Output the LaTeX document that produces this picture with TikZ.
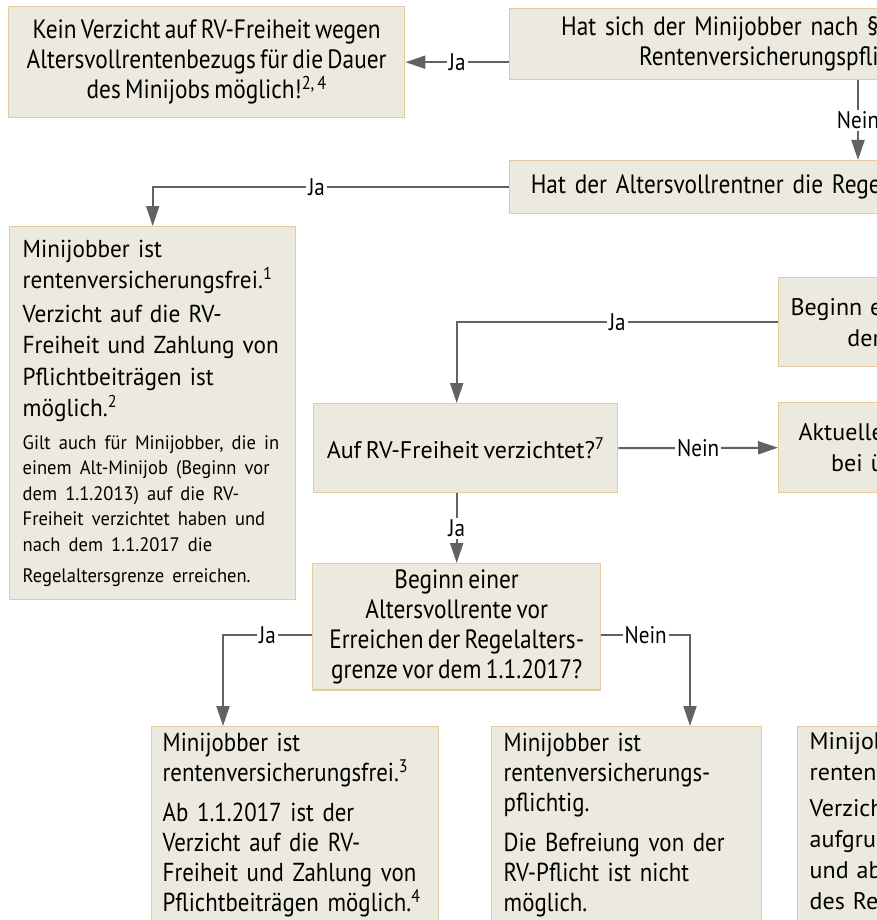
\documentclass[tikz,border=0pt]{standalone}
\usepackage{fontspec}
\setmainfont[WordSpace=0.7]{PT Sans}
\newfontfamily\condfont[FakeStretch=0.88,WordSpace=0.7]{PT Sans}
\newfontfamily\narrowfont[FakeStretch=0.95,WordSpace=0.7]{PT Sans}
\usetikzlibrary{arrows.meta,calc,positioning}
\definecolor{boxfill}{RGB}{236,234,222}
\definecolor{boxline}{RGB}{226,204,156}
\definecolor{linegray}{RGB}{98,98,98}

\begin{document}
\begin{tikzpicture}
	[
	x=1pt, y=-1pt,
  > = {Triangle[length=20pt,width=13pt]},
  box/.style = {draw=boxline, fill=boxfill, line width=1.4pt, anchor=north west, inner xsep=12pt, inner ysep=6pt},
  cbox/.style = {box, font=\condfont\fontsize{26.5}{30}\selectfont, align=center},
  rbox/.style = {box, font=\fontsize{24}{31}\selectfont, align=left},
  lowbox/.style = {box, font=\condfont\fontsize{26}{30}\selectfont, align=left, text depth=200pt},
  cut/.style = {align=right, text width=#1},
  flow/.style = {draw=linegray, line width=2pt, ->},
  tag/.style = {fill=white, inner sep=2pt, font=\condfont\fontsize{24}{26}\selectfont}
  ]
	\clip (0,0) rectangle (877,920);

	% top row
	\node[cbox, minimum width=396pt, minimum height=111pt] (kein) at (8,6)
		{Kein Verzicht auf RV-Freiheit wegen\\Altersvollrentenbezugs für die Dauer\\des Minijobs möglich!\textsuperscript{2, 4}};
	\node[cbox, cut=357pt, minimum height=71pt] (befreit) at (509,8)
		{Hat~sich~der~Minijobber~nach~§\\Rentenversicherungspfli};
	\node[cbox, cut=359pt, minimum height=53pt] (regel) at (509,160)
		{Hat~der~Altersvollrentner~die~Rege};

	% middle
	\node[rbox, font=\narrowfont\fontsize{24.5}{31.5}\selectfont, inner xsep=13pt, text width=260pt, minimum height=373pt] (frei) at (9,226)
		{Minijobber ist\\rentenversicherungsfrei.\textsuperscript{1}\par\vspace{2pt}
		Verzicht auf die RV-\\Freiheit und Zahlung von\\Pflichtbeiträgen ist\\möglich.\textsuperscript{2}\par\vspace{7pt}
		\fontsize{19.5}{25.5}\selectfont Gilt auch für Minijobber, die in\\einem Alt-Minijob (Beginn vor\\dem 1.1.2013) auf die RV-\\Freiheit verzichtet haben und\\nach dem 1.1.2017 die\\Regelaltersgrenze erreichen.};
	\node[rbox, cut=90pt, minimum height=89pt] (beginn) at (778,277)
		{Beginn~e\\der};
	\node[rbox, align=center, minimum width=304pt, minimum height=89pt] (verz) at (313,403)
		{Auf RV-Freiheit verzichtet?\textsuperscript{7}};
	\node[rbox, cut=93pt, minimum height=90pt] (aktuell) at (778,402)
		{Aktuelle\\bei~ü};
	\node[cbox, minimum width=288pt, minimum height=126pt] (vor) at (312,563)
		{Beginn einer\\Altersvollrente vor\\Erreichen der Regelalters-\\grenze vor dem 1.1.2017?};

	% bottom row
	\node[lowbox, inner xsep=11pt, text width=265pt] (frei3) at (151,726)
		{Minijobber ist\\rentenversicherungsfrei.\textsuperscript{3}\par\vspace{10pt}
		Ab 1.1.2017 ist der\\Verzicht auf die RV-\\Freiheit und Zahlung von\\Pflichtbeiträgen möglich.\textsuperscript{4}};
	\node[lowbox, text width=246pt] (pflicht) at (491,726)
		{Minijobber ist\\rentenversicherungs-\\pflichtig.\par\vspace{10pt}
		Die Befreiung von der\\RV-Pflicht ist nicht\\möglich.};
	\node[rbox, text width=120pt, text depth=200pt] (rest) at (797,726)
		{Minijob\\renten\par\vspace{5pt}
		Verzich\\aufgru\\und~ab\\des~Re};

	\coordinate (nb) at (858,0);
	\coordinate (ja3) at (223,635);
	\coordinate (nein3) at (690,635);

	\draw[flow] (befreit.west |- kein.east) -- node[tag]{Ja} (kein.east);
	\draw[flow] (befreit.south -| nb) -- node[tag]{Nein} (regel.north -| nb);
	\draw[flow] (regel.west) -| node[tag, pos=0.27]{Ja} (frei.north);
	\draw[flow] (beginn.west) -| node[tag, pos=0.25]{Ja} (vor.north |- verz.north);
	\draw[flow] (verz.east) -- node[tag]{Nein} (aktuell.west);
	\draw[flow] (vor.north |- verz.south) -- node[tag]{Ja} (vor.north);
	\draw[flow] (vor.west |- ja3) -- node[tag]{Ja} (ja3) -- (frei3.north -| ja3);
	\draw[flow] (vor.east |- nein3) -- node[tag]{Nein} (nein3) -- (pflicht.north -| nein3);

\end{tikzpicture}
\end{document}
